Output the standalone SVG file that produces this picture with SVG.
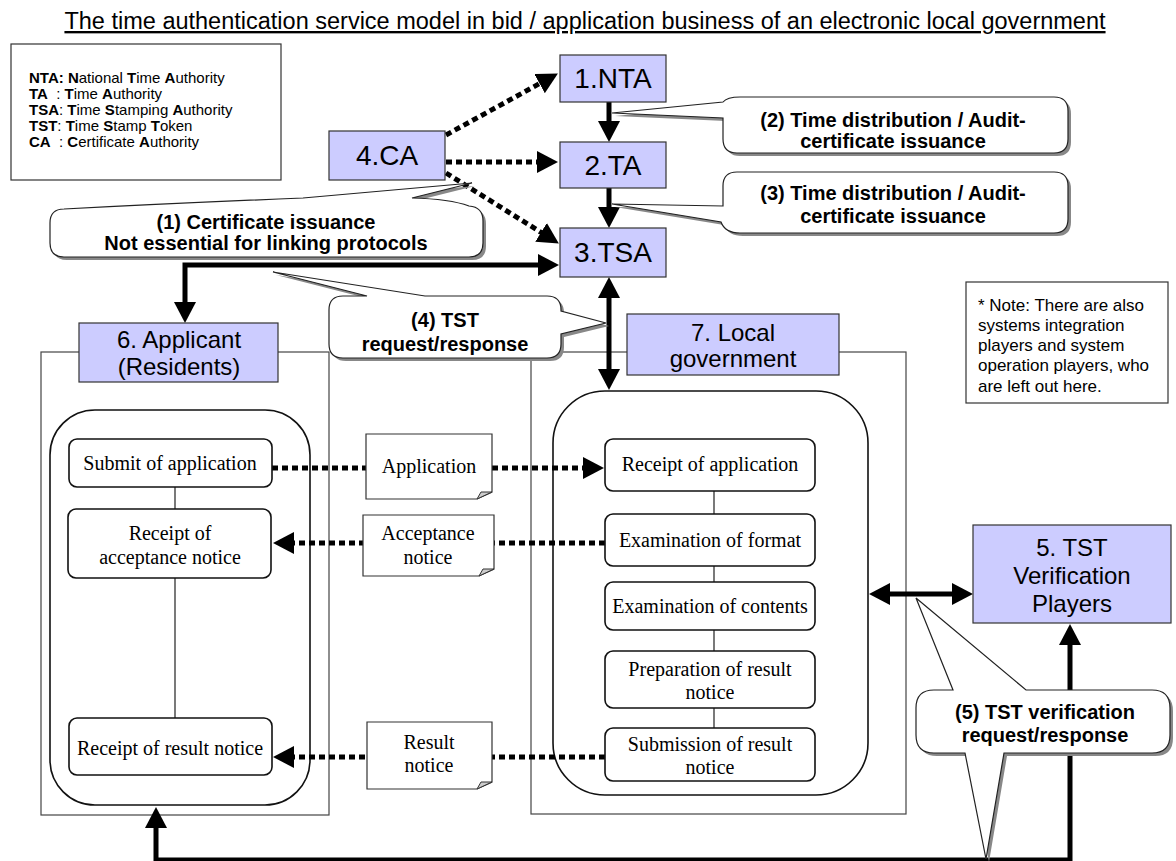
<svg xmlns="http://www.w3.org/2000/svg" width="1176" height="861" viewBox="0 0 1176 861">
  <style>
    .sans { font-family: "Liberation Sans", Arial, sans-serif; fill: #000; }
    .serif { font-family: "Liberation Serif", "Times New Roman", serif; fill: #000; font-size: 20px; text-anchor: middle; }
    .node { fill: #CCCCFF; stroke: #333; stroke-width: 1.2; }
    .big { font-size: 28px; text-anchor: middle; }
    .lbl { font-size: 24px; text-anchor: middle; }
    .co { font-size: 20px; font-weight: bold; text-anchor: middle; }
    .frame { fill: #fff; stroke: #444; stroke-width: 1.2; }
    .cont { fill: #fff; stroke: #111; stroke-width: 1.6; }
    .step { fill: #fff; stroke: #111; stroke-width: 1.6; }
    .doc { fill: #fff; stroke: #333; stroke-width: 1.2; }
    .fold { fill: #ccc; stroke: #333; stroke-width: 1; }
    .thin { fill: none; stroke: #222; stroke-width: 1.2; }
    .callout { fill: #fff; stroke: #222; stroke-width: 1.2; }
    .shadow { fill: #888; stroke: none; }
    .dot { fill: none; stroke: #000; stroke-width: 5; stroke-dasharray: 6 4; }
    .thick { fill: none; stroke: #000; stroke-width: 5; }
    .b { font-weight: bold; }
  </style>
  <defs>
    <marker id="ah" viewBox="0 0 21 22" markerWidth="21" markerHeight="22" refX="1" refY="11" orient="auto-start-reverse" markerUnits="userSpaceOnUse">
      <path d="M0,0 L21,11 L0,22 Z" fill="#000"/>
    </marker>
  </defs>

  <!-- heading -->
  <text class="sans" x="585" y="29" font-size="23.5" text-anchor="middle" text-decoration="underline">The time authentication service model in bid / application business of an electronic local government</text>

  <!-- abbreviations -->
  <g id="legend">
    <rect x="11" y="44" width="270" height="136" fill="#fff" stroke="#333" stroke-width="1.2"/>
    <text class="sans" font-size="15" style="white-space:pre">
      <tspan x="29" y="83"><tspan class="b">NTA: N</tspan>ational <tspan class="b">T</tspan>ime <tspan class="b">A</tspan>uthority</tspan>
      <tspan x="29" y="99"><tspan class="b">TA</tspan>  : <tspan class="b">T</tspan>ime <tspan class="b">A</tspan>uthority</tspan>
      <tspan x="29" y="115"><tspan class="b">TSA</tspan>: <tspan class="b">T</tspan>ime <tspan class="b">S</tspan>tamping <tspan class="b">A</tspan>uthority</tspan>
      <tspan x="29" y="131"><tspan class="b">TST</tspan>: <tspan class="b">T</tspan>ime <tspan class="b">S</tspan>tamp <tspan class="b">T</tspan>oken</tspan>
      <tspan x="29" y="147"><tspan class="b">CA</tspan>  : <tspan class="b">C</tspan>ertificate <tspan class="b">A</tspan>uthority</tspan>
    </text>
  </g>

  <!-- note -->
  <g id="note">
    <rect x="966" y="282" width="202" height="121" fill="#fff" stroke="#333" stroke-width="1.2"/>
    <text class="sans" font-size="17">
      <tspan x="978" y="311">* Note: There are also</tspan>
      <tspan x="978" y="331">systems integration</tspan>
      <tspan x="978" y="351">players and system</tspan>
      <tspan x="978" y="371">operation players, who</tspan>
      <tspan x="978" y="392">are left out here.</tspan>
    </text>
  </g>

  <!-- swimlane frames and containers -->
  <g id="applicant-lane">
    <rect class="frame" x="41" y="352" width="288" height="463"/>
    <rect class="cont" x="50" y="410" width="260" height="395" rx="45" ry="45"/>
    <path class="thin" d="M175,487 V509 M175,578 V718"/>
  </g>
  <g id="government-lane">
    <rect class="frame" x="531" y="352" width="375" height="462"/>
    <rect class="cont" x="553" y="391" width="315" height="404" rx="52" ry="52"/>
    <path class="thin" d="M714,491 V514 M714,566 V582 M714,630 V651 M714,708 V728"/>
  </g>

  <!-- connectors (drawn under the callouts) -->
  <g id="connectors">
    <path class="thick" d="M609,102 V122" marker-end="url(#ah)"/>
    <path class="thick" d="M609,188 V208" marker-end="url(#ah)"/>
    <path class="dot" d="M446,135 L540.4,83.1" marker-end="url(#ah)"/>
    <path class="dot" d="M446,162 L538,162" marker-end="url(#ah)"/>
    <path class="dot" d="M446,173 L541.9,232.9" marker-end="url(#ah)"/>
    <path class="thick" d="M185,303 V265 H539" marker-start="url(#ah)" marker-end="url(#ah)"/>
    <path class="thick" d="M609,297 V370" marker-start="url(#ah)" marker-end="url(#ah)"/>
    <path class="thick" d="M889,594 H953" marker-start="url(#ah)" marker-end="url(#ah)"/>
    <path class="thick" d="M156,827 V860 H1070 V644" marker-start="url(#ah)" marker-end="url(#ah)"/>
    <path class="dot" d="M272,468 H584" marker-end="url(#ah)"/>
    <path class="dot" d="M605,543 H293" marker-end="url(#ah)"/>
    <path class="dot" d="M605,757 H293" marker-end="url(#ah)"/>
  </g>

  <!-- callouts -->
  <g id="callout-1">
    <path class="shadow" transform="translate(3,3)" d="M64,209 Q180,203 303,198 L472,183 L412,198 Q450,199 469,206 Q483,207 483,221 L483,243 Q483,257 469,257 L64,257 Q50,257 50,243 L50,223 Q50,209 64,209 Z"/>
    <path class="callout" d="M64,209 Q180,203 303,198 L472,183 L412,198 Q450,199 469,206 Q483,207 483,221 L483,243 Q483,257 469,257 L64,257 Q50,257 50,243 L50,223 Q50,209 64,209 Z"/>
    <text class="sans co" x="266" y="229">(1) Certificate issuance</text>
    <text class="sans co" x="266" y="250" font-size="16.5">Not essential for linking protocols</text>
  </g>
  <g id="callout-2">
    <path class="shadow" transform="translate(3,3)" d="M740,97 L1054,97 Q1068,97 1068,111 L1068,139 Q1068,153 1054,153 L737,153 Q723,153 723,139 L723,118 L612,113 L723,102 Q727,97 740,97 Z"/>
    <path class="callout" d="M740,97 L1054,97 Q1068,97 1068,111 L1068,139 Q1068,153 1054,153 L737,153 Q723,153 723,139 L723,118 L612,113 L723,102 Q727,97 740,97 Z"/>
    <text class="sans co" x="893" y="127">(2) Time distribution / Audit-</text>
    <text class="sans co" x="893" y="148">certificate issuance</text>
  </g>
  <g id="callout-3">
    <path class="shadow" transform="translate(3,3)" d="M737,172 L1054,172 Q1068,172 1068,186 L1068,219 Q1068,233 1054,233 L740,233 Q725,233 721,222 L612,204 L723,206 L723,186 Q723,172 737,172 Z"/>
    <path class="callout" d="M737,172 L1054,172 Q1068,172 1068,186 L1068,219 Q1068,233 1054,233 L740,233 Q725,233 721,222 L612,204 L723,206 L723,186 Q723,172 737,172 Z"/>
    <text class="sans co" x="893" y="200">(3) Time distribution / Audit-</text>
    <text class="sans co" x="893" y="223">certificate issuance</text>
  </g>
  <g id="callout-4">
    <path class="shadow" transform="translate(3,3)" d="M343,296 L367,296 L273,272 L425,296 L547,296 Q561,296 561,310 L561,311 L606,323 L561,334 L561,344 Q561,358 547,358 L343,358 Q329,358 329,344 L329,310 Q329,296 343,296 Z"/>
    <path class="callout" d="M343,296 L367,296 L273,272 L425,296 L547,296 Q561,296 561,310 L561,311 L606,323 L561,334 L561,344 Q561,358 547,358 L343,358 Q329,358 329,344 L329,310 Q329,296 343,296 Z"/>
    <text class="sans co" x="445" y="327">(4) TST</text>
    <text class="sans co" x="445" y="351">request/response</text>
  </g>
  <g id="callout-5">
    <path class="shadow" transform="translate(3,3)" d="M934,690 L953,690 L916,598 L1026,690 L1152,690 Q1170,690 1170,708 L1170,735 Q1170,753 1152,753 L1004,753 L986,859 L965,753 L934,753 Q916,753 916,735 L916,708 Q916,690 934,690 Z"/>
    <path class="callout" d="M934,690 L953,690 L916,598 L1026,690 L1152,690 Q1170,690 1170,708 L1170,735 Q1170,753 1152,753 L1004,753 L986,859 L965,753 L934,753 Q916,753 916,735 L916,708 Q916,690 934,690 Z"/>
    <text class="sans co" x="1045" y="719">(5) TST verification</text>
    <text class="sans co" x="1045" y="742">request/response</text>
  </g>

  <!-- authorities -->
  <g id="nta">
    <rect class="node" x="560" y="55" width="106" height="47"/>
    <text class="sans big" x="613" y="88">1.NTA</text>
  </g>
  <g id="ta">
    <rect class="node" x="560" y="142" width="106" height="46"/>
    <text class="sans big" x="613" y="175">2.TA</text>
  </g>
  <g id="tsa">
    <rect class="node" x="560" y="228" width="106" height="49"/>
    <text class="sans big" x="613" y="262">3.TSA</text>
  </g>
  <g id="ca">
    <rect class="node" x="329" y="131" width="116" height="49"/>
    <text class="sans big" x="387" y="165">4.CA</text>
  </g>
  <g id="verifier">
    <rect class="node" x="973" y="525" width="198" height="98"/>
    <text class="sans lbl" x="1072" y="556">5. TST</text>
    <text class="sans lbl" x="1072" y="584">Verification</text>
    <text class="sans lbl" x="1072" y="612">Players</text>
  </g>
  <g id="applicant">
    <rect class="node" x="79" y="323" width="199" height="59"/>
    <text class="sans lbl" x="179" y="348">6. Applicant</text>
    <text class="sans lbl" x="179" y="375">(Residents)</text>
  </g>
  <g id="government">
    <rect class="node" x="627" y="314" width="212" height="61"/>
    <text class="sans lbl" x="733" y="341">7. Local</text>
    <text class="sans lbl" x="733" y="367">government</text>
  </g>

  <!-- applicant steps -->
  <g id="submit-application">
    <rect class="step" x="69" y="439" width="203" height="48" rx="8"/>
    <text class="serif" x="170" y="470">Submit of application</text>
  </g>
  <g id="receive-acceptance">
    <rect class="step" x="68" y="509" width="203" height="69" rx="8"/>
    <text class="serif" x="170" y="540">Receipt of</text>
    <text class="serif" x="170" y="564">acceptance notice</text>
  </g>
  <g id="receive-result">
    <rect class="step" x="69" y="718" width="203" height="57" rx="8"/>
    <text class="serif" x="170" y="755">Receipt of result notice</text>
  </g>

  <!-- government steps -->
  <g id="receive-application">
    <rect class="step" x="605" y="439" width="210" height="52" rx="8"/>
    <text class="serif" x="710" y="471">Receipt of application</text>
  </g>
  <g id="check-format">
    <rect class="step" x="605" y="514" width="210" height="52" rx="8"/>
    <text class="serif" x="710" y="547">Examination of format</text>
  </g>
  <g id="check-contents">
    <rect class="step" x="605" y="582" width="210" height="48" rx="8"/>
    <text class="serif" x="710" y="613">Examination of contents</text>
  </g>
  <g id="prepare-result">
    <rect class="step" x="605" y="651" width="210" height="57" rx="8"/>
    <text class="serif" x="710" y="676">Preparation of result</text>
    <text class="serif" x="710" y="699">notice</text>
  </g>
  <g id="submit-result">
    <rect class="step" x="605" y="728" width="210" height="53" rx="8"/>
    <text class="serif" x="710" y="751">Submission of result</text>
    <text class="serif" x="710" y="774">notice</text>
  </g>

  <!-- documents passed between the lanes -->
  <g id="doc-application">
    <path class="doc" d="M366,434 H492 V492 L477,499 H366 Z"/>
    <path class="fold" d="M477,499 L481,492 L492,492 Z"/>
    <text class="serif" x="429" y="473">Application</text>
  </g>
  <g id="doc-acceptance">
    <path class="doc" d="M363,515 H494 V569 L479,576 H363 Z"/>
    <path class="fold" d="M479,576 L483,569 L494,569 Z"/>
    <text class="serif" x="428" y="540">Acceptance</text>
    <text class="serif" x="428" y="564">notice</text>
  </g>
  <g id="doc-result">
    <path class="doc" d="M367,722 H492 V782 L477,789 H367 Z"/>
    <path class="fold" d="M477,789 L481,782 L492,782 Z"/>
    <text class="serif" x="429" y="749">Result</text>
    <text class="serif" x="429" y="772">notice</text>
  </g>
</svg>
